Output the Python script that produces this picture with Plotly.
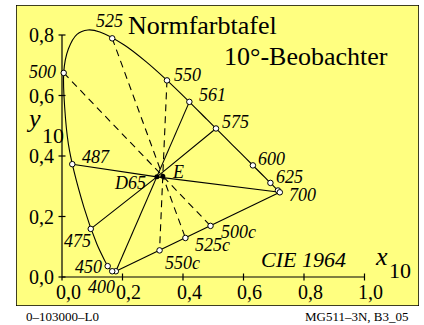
import plotly.graph_objects as go

# CIE 1964 (10 degree) spectral locus, chromaticity coordinates
locus_nm = [400, 410, 420, 430, 440, 450, 460, 470, 480, 490, 500, 505, 510, 515, 520,
            530, 540, 550, 560, 570, 580, 590, 600, 610, 620, 630, 640, 650, 660, 680, 700]
locus_x = [0.1784, 0.1755, 0.1706, 0.1650, 0.1590, 0.1510, 0.1389, 0.1152, 0.0728, 0.0210,
           0.0056, 0.0210, 0.0495, 0.0857, 0.1252, 0.2071, 0.2786, 0.3473, 0.4142, 0.4790,
           0.5386, 0.5900, 0.6306, 0.6612, 0.6827, 0.6955, 0.7059, 0.7137, 0.7168, 0.7198, 0.7203]
locus_y = [0.0187, 0.0181, 0.0179, 0.0203, 0.0257, 0.0364, 0.0589, 0.1090, 0.2292, 0.4401,
           0.6746, 0.7536, 0.8023, 0.8167, 0.8102, 0.7663, 0.7113, 0.6501, 0.5858, 0.5210,
           0.4614, 0.4100, 0.3694, 0.3388, 0.3173, 0.3045, 0.2941, 0.2863, 0.2832, 0.2802, 0.2797]

# marked points
mark_names = ["400", "430", "450", "475", "487", "500", "525", "550", "561", "575",
              "600", "625", "650", "700", "550c", "525c", "500c"]
mark_x = [0.178, 0.166, 0.151, 0.095, 0.034, 0.0056, 0.166, 0.347, 0.421, 0.509,
          0.631, 0.689, 0.714, 0.720, 0.3225, 0.408, 0.491]
mark_y = [0.019, 0.019, 0.036, 0.159, 0.373, 0.6746, 0.789, 0.650, 0.579, 0.491,
          0.369, 0.311, 0.286, 0.280, 0.088, 0.129, 0.169]

# white points
white_names = ["D65", "E"]
white_x = [0.3138, 0.3333]
white_y = [0.3310, 0.3333]

# complementary pairs
solid_pairs = [("561", "D65", "400"), ("575", "D65", "475"), ("700", "D65", "487")]
dashed_pairs = [("500", "E", "500c"), ("525", "E", "525c"), ("550", "E", "550c")]
purple_ends = ("400", "700")

xtick_vals = [0.0, 0.2, 0.4, 0.6, 0.8, 1.0]
xtick_text = ["0,0", "0,2", "0,4", "0,6", "0,8", "1,0"]
ytick_vals = [0.0, 0.2, 0.4, 0.6, 0.8]
ytick_text = ["0,0", "0,2", "0,4", "0,6", "0,8"]

pts = {n: (x, y) for n, x, y in zip(mark_names, mark_x, mark_y)}
pts.update({n: (x, y) for n, x, y in zip(white_names, white_x, white_y)})

SERIF = "Liberation Serif"
S = 302.5  # px per unit


def px(xp, yp):
    return (xp - 62) / S, (277 - yp) / S


fig = go.Figure()

# spectral locus
fig.add_trace(go.Scatter(x=locus_x, y=locus_y, mode="lines",
                         line=dict(color="black", width=1.1, shape="spline", smoothing=0.8),
                         hoverinfo="skip"))
# purple line
a, b = purple_ends
fig.add_trace(go.Scatter(x=[pts[a][0], pts[b][0]], y=[pts[a][1], pts[b][1]], mode="lines",
                         line=dict(color="black", width=1.1), hoverinfo="skip"))


def seg(pairs):
    xs, ys = [], []
    for p in pairs:
        for n in p:
            xs.append(pts[n][0]); ys.append(pts[n][1])
        xs.append(None); ys.append(None)
    return xs, ys


sx, sy = seg(solid_pairs)
fig.add_trace(go.Scatter(x=sx, y=sy, mode="lines", line=dict(color="black", width=1.1),
                         hoverinfo="skip"))
dx, dy = seg(dashed_pairs)
fig.add_trace(go.Scatter(x=dx, y=dy, mode="lines",
                         line=dict(color="black", width=1.1, dash="7px,5px"), hoverinfo="skip"))

# axes lines + ticks
ax_x = [0, 1.0, None, 0, 0]
ax_y = [0, 0, None, 0, 0.8]
tl = 3.5 / S
for v in xtick_vals:
    ax_x += [v, v, None]; ax_y += [-tl, tl, None]
for v in ytick_vals:
    ax_x += [-tl, tl, None]; ax_y += [v, v, None]
fig.add_trace(go.Scatter(x=ax_x, y=ax_y, mode="lines", line=dict(color="black", width=1.2),
                         hoverinfo="skip"))

# markers
fig.add_trace(go.Scatter(x=mark_x, y=mark_y, mode="markers",
                         marker=dict(size=5.5, color="white", line=dict(color="black", width=1)),
                         hoverinfo="skip"))
fig.add_trace(go.Scatter(x=white_x, y=white_y, mode="markers",
                         marker=dict(size=5, color="black"), hoverinfo="skip"))

ann = []


def text(t, xp, yp, size, anchor="left", italic=False):
    x, y = px(xp, yp)
    if italic:
        t = "<i>" + t + "</i>"
    ann.append(dict(x=x, y=y, xref="x", yref="y", text=t, showarrow=False,
                    xanchor=anchor, yanchor="middle",
                    font=dict(family=SERIF, size=size, color="black")))


# tick labels
for v, t in zip(xtick_vals, xtick_text):
    text(t, 62 + v * S + 6, 291.5, 20, "center")
for v, t in zip(ytick_vals, ytick_text):
    text(t, 55.5, 277 - v * S, 20, "right")

# axis titles
text("y", 24, 118, 26, "left", True)
text("10", 40, 135.5, 22, "left")
text("x", 372.5, 256, 26, "left", True)
text("10", 387, 270.5, 22, "left")

# titles
text("Normfarbtafel", 126, 25.5, 26, "left")
text("10°-Beobachter", 221.5, 56.5, 26, "left")
text("CIE 1964", 258.5, 259, 22, "left", True)

# wavelength labels
lab = [("525", 125, 21, "right"), ("500", 57.5, 72, "right"), ("550", 172, 75, "left"),
       ("561", 197, 95, "left"), ("575", 220, 122, "left"), ("600", 256, 159, "left"),
       ("625", 274, 176.5, "left"), ("700", 287, 194.5, "left"), ("487", 80, 157, "left"),
       ("475", 62, 241, "left"), ("450", 73, 267, "left"), ("400", 86, 287, "left"),
       ("D65", 112, 183, "left"), ("E", 170, 171.5, "left"), ("500c", 219, 232, "left"),
       ("525c", 193, 245, "left"), ("550c", 163, 263, "left")]
for t, xp, yp, an in lab:
    text(t, xp, yp, 18, an, True)

# footer (figure pixels converted to plot-area paper coords)
pw, ph = 403, 301
ann.append(dict(x=(24 - 16) / pw, y=(306 - 316) / ph, xref="paper", yref="paper",
                text="0–103000–L0", showarrow=False, xanchor="left", yanchor="middle",
                font=dict(family=SERIF, size=13, color="black")))
ann.append(dict(x=(411 - 16) / pw, y=(306 - 316) / ph, xref="paper", yref="paper",
                text="MG511–3N, B3_05", showarrow=False, xanchor="right", yanchor="middle",
                font=dict(family=SERIF, size=13, color="black")))

x0d, _ = px(16, 0)
x1d, _ = px(419, 0)
_, y1d = px(0, 5)
_, y0d = px(0, 306)

fig.update_layout(
    width=424, height=325,
    margin=dict(l=16, r=5, t=5, b=19, pad=0, autoexpand=False),
    paper_bgcolor="white", plot_bgcolor="#FFFF80",
    showlegend=False,
    xaxis=dict(range=[x0d, x1d], visible=False, fixedrange=True),
    yaxis=dict(range=[y0d, y1d], visible=False, fixedrange=True),
    annotations=ann,
    shapes=[dict(type="rect", xref="x", yref="y", x0=x0d, x1=x1d, y0=y0d, y1=y1d,
                 line=dict(color="black", width=1.5), layer="above")],
)
fig.write_html("out.html", config=dict(displayModeBar=False),
               post_script="document.body.style.margin='0px';")
